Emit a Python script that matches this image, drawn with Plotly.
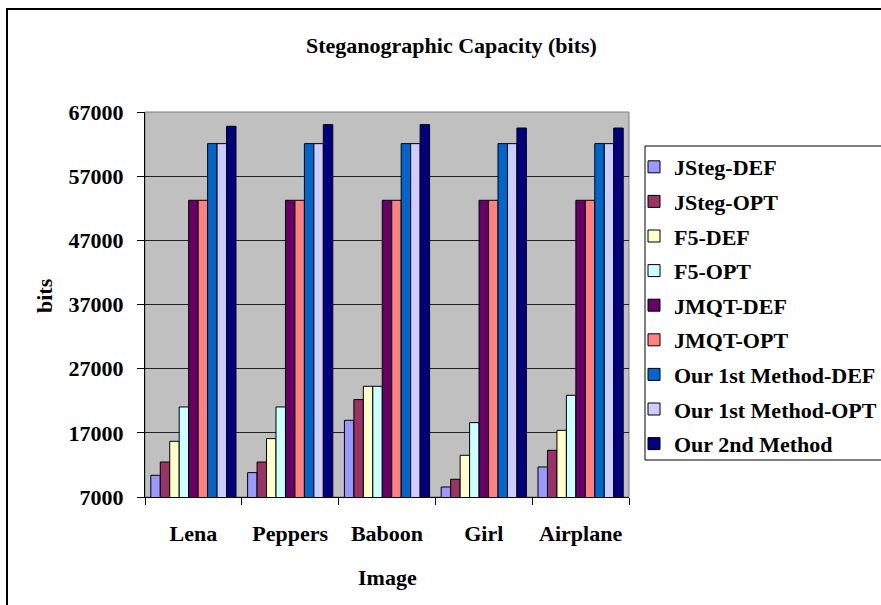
import plotly.graph_objects as go

# Test images on the category axis
images = ["Lena", "Peppers", "Baboon", "Girl", "Airplane"]

# Embedding capacity (bits) for each method, one value per image
jsteg_def = [10380, 10800, 18950, 8560, 11680]
jsteg_opt = [12450, 12450, 22180, 9760, 14280]
f5_def = [15680, 16100, 24250, 13500, 17390]
f5_opt = [21030, 21030, 24250, 18590, 22850]
jmqt_def = [53240, 53240, 53240, 53240, 53240]
jmqt_opt = [53240, 53240, 53240, 53240, 53240]
our1_def = [62070, 62070, 62070, 62070, 62070]
our1_opt = [62070, 62070, 62070, 62070, 62070]
our2 = [64770, 65030, 65030, 64500, 64500]

series_names = ["JSteg-DEF", "JSteg-OPT", "F5-DEF", "F5-OPT", "JMQT-DEF",
                "JMQT-OPT", "Our 1st Method-DEF", "Our 1st Method-OPT",
                "Our 2nd Method"]
series_values = [jsteg_def, jsteg_opt, f5_def, f5_opt, jmqt_def,
                 jmqt_opt, our1_def, our1_opt, our2]
series_colors = ["#9999FF", "#993366", "#FFFFCC", "#CCFFFF", "#660066",
                 "#FF8080", "#0066CC", "#CCCCFF", "#000080"]

y_ticks = [7000, 17000, 27000, 37000, 47000, 57000, 67000]

FONT = "Liberation Serif"
W, H = 881, 605
L, R, T, B = 145, 629, 112, 497  # plot area in pixels


def px_x(x):
    return (x - L) / (R - L)


def px_y(y):
    return (B - y) / (B - T)


fig = go.Figure()
for i, (name, vals, col) in enumerate(zip(series_names, series_values, series_colors)):
    fig.add_trace(go.Bar(
        x=images, y=vals, name=name, legendgroup=f"g{i}",
        marker=dict(color=col, line=dict(color="black", width=1)),
    ))

fig.update_layout(
    width=W, height=H,
    margin=dict(l=L, r=W - R, t=T, b=H - B, autoexpand=False),
    paper_bgcolor="white",
    plot_bgcolor="#C0C0C0",
    bargap=0.12, bargroupgap=0,
    font=dict(family=FONT, size=22, color="black"),
    showlegend=True,
    legend=dict(
        x=px_x(634), y=px_y(146), xanchor="left", yanchor="top",
        bgcolor="rgba(0,0,0,0)", borderwidth=0,
        font=dict(family=FONT, size=22, color="black", weight="bold"),
        tracegroupgap=3, traceorder="grouped",
    ),
    xaxis=dict(
        type="category", showline=True, linecolor="black", linewidth=1,
        ticks="outside", tickson="boundaries", ticklen=7, tickcolor="black",
        showgrid=False, ticklabelstandoff=17,
        tickfont=dict(family=FONT, size=22, color="black", weight="bold"),
    ),
    yaxis=dict(
        range=[7000, 67000], tickvals=y_ticks, tickformat="d",
        showline=True, linecolor="black", linewidth=1,
        ticks="outside", ticklen=7, tickcolor="black",
        showgrid=True, gridcolor="#202020", gridwidth=1, zeroline=False,
        ticklabelstandoff=9,
        tickfont=dict(family=FONT, size=22, color="black", weight="bold"),
    ),
    shapes=[
        # outer chart frame
        dict(type="rect", xref="paper", yref="paper",
             x0=px_x(7), x1=px_x(W + 20), y0=px_y(H + 20), y1=px_y(9),
             line=dict(color="black", width=2), fillcolor="rgba(0,0,0,0)"),
        # plot area border
        dict(type="rect", xref="paper", yref="paper",
             x0=0, x1=1, y0=0, y1=1, layer="below",
             line=dict(color="#808080", width=1), fillcolor="rgba(0,0,0,0)"),
        # legend box
        dict(type="rect", xref="paper", yref="paper",
             x0=px_x(645), x1=px_x(W + 20), y0=px_y(460), y1=px_y(146),
             line=dict(color="black", width=1), fillcolor="rgba(0,0,0,0)"),
    ],
    annotations=[
        dict(text="<b>Steganographic Capacity (bits)</b>", xref="paper", yref="paper",
             x=px_x(451), y=px_y(45), xanchor="center", yanchor="middle",
             showarrow=False, font=dict(family=FONT, size=22, color="black")),
        dict(text="<b>Image</b>", xref="paper", yref="paper",
             x=px_x(387), y=px_y(577), xanchor="center", yanchor="middle",
             showarrow=False, font=dict(family=FONT, size=22, color="black")),
        dict(text="<b>bits</b>", xref="paper", yref="paper",
             x=px_x(44), y=px_y(296), xanchor="center", yanchor="middle",
             textangle=-90, showarrow=False,
             font=dict(family=FONT, size=22, color="black")),
    ],
)

fig.write_html("out.html")
